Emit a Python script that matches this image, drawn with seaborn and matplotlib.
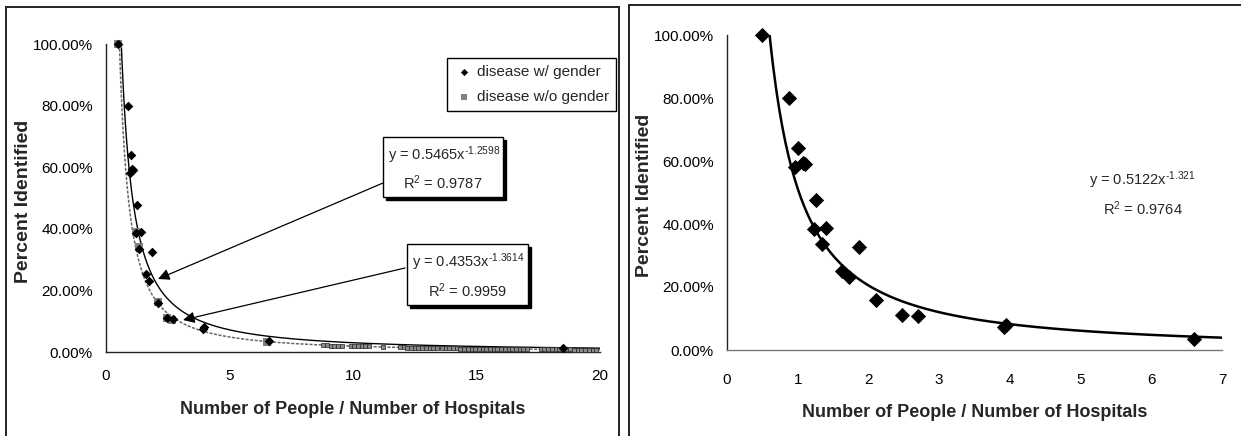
import numpy as np
import pandas as pd
import matplotlib
matplotlib.use("Agg")
import matplotlib.pyplot as plt
from matplotlib.patches import Rectangle
from matplotlib.ticker import PercentFormatter
import seaborn as sns

# ---------------- data ----------------
gender_x = [0.50, 0.88, 0.96, 1.00, 1.07, 1.10, 1.23, 1.26, 1.34, 1.40, 1.62, 1.73,
            1.86, 2.10, 2.48, 2.70, 3.92, 3.95, 6.61, 18.5]
gender_y = [1.00, 0.80, 0.58, 0.64, 0.595, 0.59, 0.385, 0.476, 0.336, 0.388, 0.252, 0.232,
            0.326, 0.159, 0.110, 0.108, 0.074, 0.080, 0.035, 0.013]

nogender_x = [0.50, 1.22, 1.34, 2.09, 2.46, 2.68, 6.50]
nogender_y = [1.00, 0.389, 0.340, 0.161, 0.112, 0.104, 0.034]

# dense small-valued points of the "w/o gender" series at large ratios
band_x = [8.8, 8.95, 9.1, 9.25, 9.4, 9.55, 9.9, 10.05, 10.2, 10.35, 10.5, 10.65,
          11.2, 11.9, 12.05, 12.2, 12.35, 12.5, 12.65, 12.8, 12.95, 13.1, 13.25, 13.4,
          13.6, 13.75, 13.9, 14.05, 14.2, 14.35, 14.5, 14.65, 14.8, 14.95, 15.1, 15.25,
          15.4, 15.55, 15.7, 15.85, 16.0, 16.15, 16.3, 16.45, 16.6, 16.75, 16.9, 17.05,
          17.6, 17.75, 17.9, 18.05, 18.2, 18.35, 18.5, 18.65, 18.8, 18.95, 19.1, 19.25,
          19.4, 19.55, 19.7, 19.85]
band_y = [0.022, 0.022, 0.021, 0.021, 0.020, 0.020, 0.019, 0.019, 0.019, 0.018, 0.018,
          0.018, 0.017, 0.015, 0.015, 0.014, 0.014, 0.014, 0.014, 0.013, 0.013, 0.013,
          0.013, 0.013, 0.012, 0.012, 0.012, 0.012, 0.012, 0.011, 0.011, 0.011, 0.011,
          0.011, 0.011, 0.011, 0.010, 0.010, 0.010, 0.010, 0.010, 0.010, 0.010, 0.010,
          0.010, 0.010, 0.009, 0.009, 0.009, 0.009, 0.009, 0.009, 0.009, 0.009, 0.009,
          0.009, 0.009, 0.008, 0.008, 0.008, 0.008, 0.008, 0.008, 0.008]

# right chart: gender series without the outlier
right_x = gender_x[:-1]
right_y = gender_y[:-1]

# printed power-law trend lines  y = a * x^b, with R^2
fit_gender = (0.5465, -1.2598, 0.9787)
fit_nogender = (0.4353, -1.3614, 0.9959)
fit_right = (0.5122, -1.321, 0.9764)

x_ticks_left = [0, 5, 10, 15, 20]
x_ticks_right = [0, 1, 2, 3, 4, 5, 6, 7]
y_ticks = [0, 0.2, 0.4, 0.6, 0.8, 1.0]

xlabel = "Number of People / Number of Hospitals"
ylabel = "Percent Identified"
lab_gender = "disease w/ gender"
lab_nogender = "disease w/o gender"

# ---------------- style ----------------
sns.set_theme(style="white")
plt.rcParams['font.family'] = ['Liberation Sans', 'DejaVu Sans']
plt.rcParams['mathtext.fontset'] = 'custom'
plt.rcParams['mathtext.rm'] = 'Liberation Sans'
plt.rcParams['mathtext.it'] = 'Liberation Sans:italic'
plt.rcParams['mathtext.bf'] = 'Liberation Sans:bold'
plt.rcParams['mathtext.default'] = 'regular'

W, H = 1241, 436
fig = plt.figure(figsize=(W / 100, H / 100), dpi=100)
fig.patch.set_facecolor("white")

def fx(px):
    return px / W

def fy(py):
    return 1 - py / H

# panel frames
fig.patches.append(Rectangle((fx(6), fy(445)), fx(619) - fx(6), fy(7) - fy(445),
                             transform=fig.transFigure, fill=False, ec="#222222", lw=1.4))
fig.patches.append(Rectangle((fx(629), fy(445)), fx(1250) - fx(629), fy(5) - fy(445),
                             transform=fig.transFigure, fill=False, ec="#222222", lw=1.4))

axL = fig.add_axes([fx(106), fy(352), fx(600) - fx(106), fy(44) - fy(352)])
axR = fig.add_axes([fx(727), fy(350), fx(1222) - fx(727), fy(35) - fy(350)])

def style_axes(ax, xticks, xmax, spine_col_x, xpad):
    ax.set_xlim(0, xmax)
    ax.set_ylim(0, 1.0)
    ax.set_xticks(xticks)
    ax.set_yticks(y_ticks)
    ax.yaxis.set_major_formatter(PercentFormatter(1.0, decimals=2))
    for s in ["top", "right"]:
        ax.spines[s].set_visible(False)
    ax.spines["left"].set_color("#222222")
    ax.spines["bottom"].set_color(spine_col_x)
    ax.spines["left"].set_linewidth(1.0)
    ax.spines["bottom"].set_linewidth(1.0)
    ax.tick_params(axis="both", direction="out", length=4.5, width=1.0, labelsize=11,
                   colors="black")
    ax.tick_params(axis="x", pad=xpad)
    ax.tick_params(axis="y", pad=5)
    ax.set_facecolor("white")

def set_labels(ax, xly, ylx):
    ax.set_xlabel(xlabel, fontsize=13, fontweight="bold")
    ax.set_ylabel(ylabel, fontsize=14, fontweight="bold")
    ax.xaxis.set_label_coords(0.5, xly)
    ax.yaxis.set_label_coords(ylx, 0.49)

style_axes(axL, x_ticks_left, 20, "#222222", 8)
style_axes(axR, x_ticks_right, 7, "#777777", 12)

# ---------------- left chart ----------------
xl = np.linspace(0.5, 20, 400)
trend_l = pd.DataFrame({"x": xl,
                        "g": fit_gender[0] * xl ** fit_gender[1],
                        "n": fit_nogender[0] * xl ** fit_nogender[1]})
sns.lineplot(data=trend_l, x="x", y="n", ax=axL, color="#666666", lw=1.1,
             linestyle=(0, (2, 1)), zorder=2)
sns.lineplot(data=trend_l, x="x", y="g", ax=axL, color="black", lw=1.0, zorder=2)

sns.scatterplot(x=band_x, y=band_y, ax=axL, marker="s", s=11, color="#8a8a8a",
                edgecolor="#222222", linewidth=0.5, zorder=3, clip_on=False)
sns.scatterplot(x=nogender_x, y=nogender_y, ax=axL, marker="s", s=32, color="#808080",
                edgecolor="#808080", linewidth=0, zorder=4, clip_on=False,
                label=lab_nogender)
sns.scatterplot(x=gender_x, y=gender_y, ax=axL, marker="D", s=24, color="black",
                edgecolor="black", linewidth=0, zorder=5, clip_on=False,
                label=lab_gender)

handles, labels = axL.get_legend_handles_labels()
order = [labels.index(lab_gender), labels.index(lab_nogender)]
leg = axL.legend([handles[i] for i in order], [labels[i] for i in order],
                 loc="upper right", bbox_to_anchor=(fx(616), fy(58)),
                 bbox_transform=fig.transFigure, borderaxespad=0, fontsize=11,
                 frameon=True, fancybox=False, edgecolor="black", framealpha=1,
                 borderpad=0.45, handletextpad=0.2, handlelength=1.3, labelspacing=0.75,
                 markerscale=0.75)
leg.get_frame().set_linewidth(1.0)

# equation boxes with drop shadow
def eq_box(x0, y0, x1, y1, line1, line2):
    fig.patches.append(Rectangle((fx(x0 + 3), fy(y1 + 3)), fx(x1) - fx(x0), fy(y0) - fy(y1),
                                 transform=fig.transFigure, fc="black", ec="black",
                                 lw=1, zorder=6))
    fig.patches.append(Rectangle((fx(x0), fy(y1)), fx(x1) - fx(x0), fy(y0) - fy(y1),
                                 transform=fig.transFigure, fc="white", ec="black",
                                 lw=1, zorder=7))
    cx = (x0 + x1) / 2
    fig.text(fx(cx + 1), fy(y0 + (y1 - y0) * 0.30), line1, ha="center", va="center",
             fontsize=10.5, zorder=8)
    fig.text(fx(cx), fy(y0 + (y1 - y0) * 0.76), line2, ha="center", va="center",
             fontsize=10.5, zorder=8)

def eq_text(a, b, digits):
    fmt = "%%.%df" % digits
    return ("y = %.4fx$^{\u2010" + fmt + "}$") % (a, abs(b))

eq_box(383, 137, 503, 197, eq_text(fit_gender[0], fit_gender[1], 4),
       r"R$^2$ = %.4f" % fit_gender[2])
eq_box(407, 244, 528, 305, eq_text(fit_nogender[0], fit_nogender[1], 4),
       r"R$^2$ = %.4f" % fit_nogender[2])

arrow_kw = dict(arrowstyle="-|>", color="black", lw=0.9, mutation_scale=17,
                shrinkA=0, shrinkB=0)
axL.annotate("", xy=(fx(158), fy(279)), xytext=(fx(383), fy(183)),
             xycoords=fig.transFigure, textcoords=fig.transFigure, arrowprops=arrow_kw)
axL.annotate("", xy=(fx(183), fy(320)), xytext=(fx(405), fy(268)),
             xycoords=fig.transFigure, textcoords=fig.transFigure, arrowprops=arrow_kw)
set_labels(axL, -0.16, -0.150)

# ---------------- right chart ----------------
xr = np.linspace(0.5, 7, 300)
trend_r = pd.DataFrame({"x": xr, "y": fit_right[0] * xr ** fit_right[1]})
sns.lineplot(data=trend_r, x="x", y="y", ax=axR, color="black", lw=1.8, zorder=2)
sns.scatterplot(x=right_x, y=right_y, ax=axR, marker="D", s=60, color="black",
                edgecolor="black", linewidth=0, zorder=5, clip_on=False)
axR.text(5.88, 0.54, eq_text(fit_right[0], fit_right[1], 3),
         ha="center", va="center", fontsize=10.5)
axR.text(5.88, 0.45, r"R$^2$ = %.4f" % fit_right[2], ha="center", va="center",
         fontsize=10.5)
set_labels(axR, -0.17, -0.149)

fig.savefig("out.png", dpi=100, facecolor="white")
